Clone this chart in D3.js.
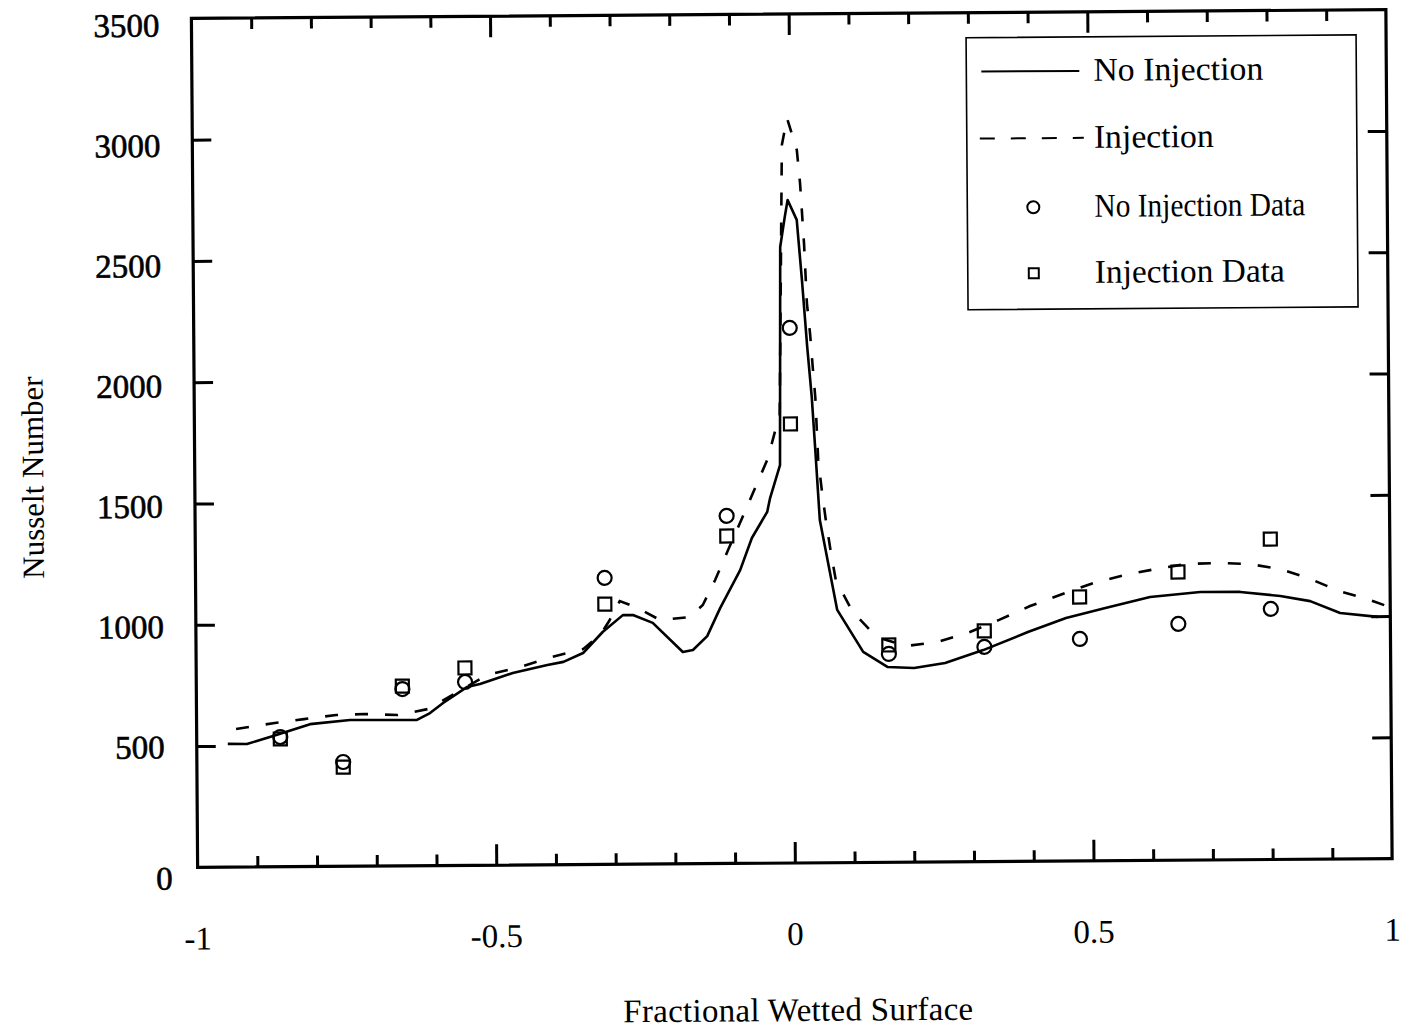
<!DOCTYPE html>
<html>
<head>
<meta charset="utf-8">
<script src="https://cdn.jsdelivr.net/npm/d3@7"></script>
<style>
  html, body { margin: 0; padding: 0; background: #fff; }
  svg { display: block; }
  text { font-family: "Liberation Serif", "Times New Roman", serif; fill: #000; }
</style>
</head>
<body>
<svg id="chart" width="1402" height="1029"></svg>
<script>
// Model curve: no injection (fractional wetted surface, Nusselt number)
const noInjectionCurveX = [-0.948, -0.916, -0.872, -0.810, -0.743, -0.631, -0.609, -0.587, -0.547, -0.525,
  -0.470, -0.412, -0.385, -0.352, -0.319, -0.285, -0.268, -0.235, -0.185, -0.168, -0.144, -0.122,
  -0.088, -0.068, -0.042, -0.037, -0.020, -0.017, -0.009, -0.004, 0.011, 0.019, 0.027, 0.034,
  0.039, 0.046, 0.074, 0.117, 0.158, 0.202, 0.254, 0.318, 0.393, 0.457, 0.523, 0.598, 0.682,
  0.749, 0.816, 0.866, 0.916, 0.979];
const noInjectionCurveY = [508, 507, 539, 587, 603, 601, 629, 670, 735, 747,
  792, 824, 836, 872, 958, 1027, 1027, 994, 873, 881, 938, 1053,
  1209, 1341, 1448, 1505, 1641, 2540, 2664, 2733, 2651, 2403, 2127, 1920,
  1714, 1413, 1042, 868, 805, 800, 820, 872, 945, 1002, 1042, 1086, 1105,
  1104, 1086, 1064, 1014, 997];

// Model curve: injection
const injectionCurveX = [-0.934, -0.869, -0.820, -0.766, -0.718, -0.663, -0.612, -0.557, -0.513, -0.458,
  -0.404, -0.352, -0.323, -0.308, -0.290, -0.263, -0.223, -0.173, -0.151, -0.130, -0.108, -0.084,
  -0.062, -0.040, -0.026, -0.020, -0.013, -0.004, 0.012, 0.017, 0.023, 0.027, 0.032, 0.036,
  0.040, 0.044, 0.050, 0.056, 0.064, 0.072, 0.100, 0.140, 0.189, 0.242, 0.296, 0.345, 0.397,
  0.447, 0.503, 0.555, 0.608, 0.660, 0.712, 0.764, 0.816, 0.863, 0.916, 0.958, 0.990];
const injectionCurveY = [569, 593, 608, 624, 627, 622, 646, 723, 784, 816,
  857, 888, 946, 1003, 1085, 1060, 1006, 1017, 1066, 1169, 1292, 1424,
  1547, 1670, 1798, 1827, 2960, 3071, 2939, 2803, 2551, 2308, 2180, 2044,
  1916, 1661, 1529, 1413, 1281, 1165, 1033, 929, 891, 907, 947, 996, 1052,
  1097, 1145, 1177, 1201, 1221, 1224, 1219, 1197, 1159, 1103, 1074, 1045];

// Measured points (same stations for both runs)
const stationX = [-0.860, -0.755, -0.655, -0.550, -0.315, -0.110, -0.002, 0.160, 0.320, 0.480, 0.645, 0.800];
const noInjectionData = [535, 430, 729, 756, 1181, 1433, 2206, 859, 885, 915, 974, 1033];
const injectionData = [527, 409, 741, 814, 1073, 1350, 1810, 896, 951, 1088, 1188, 1321];

// Axis ticks and labels
const xLabelValues = [-1, -0.5, 0, 0.5, 1];
const xLabelText = ["-1", "-0.5", "0", "0.5", "1"];
const xMinorTicks = [-0.9, -0.8, -0.7, -0.6, -0.4, -0.3, -0.2, -0.1, 0.1, 0.2, 0.3, 0.4, 0.6, 0.7, 0.8, 0.9];
const xMajorTicks = [-0.5, 0, 0.5];
const yLabelValues = [0, 500, 1000, 1500, 2000, 2500, 3000, 3500];
const yTickValues = [500, 1000, 1500, 2000, 2500, 3000];

const legendItems = ["No Injection", "Injection", "No Injection Data", "Injection Data"];

const svg = d3.select("#chart");
// The whole figure sits slightly tilted on the page
const g = svg.append("g").attr("transform", "rotate(-0.42, 792, 438)");

const plotLeft = 194.5, plotRight = 1389, plotTop = 14, plotBottom = 863;
const x = d3.scaleLinear().domain([-1, 1]).range([plotLeft, plotRight]);
const y = d3.scaleLinear().domain([0, 3500]).range([plotBottom, plotTop]);

const ink = "#000";

// Ticks (all pointing inward)
function styleAxis(sel) {
  sel.select(".domain").remove();
  sel.selectAll(".tick line").attr("stroke", ink).attr("stroke-width", 3);
  sel.selectAll(".tick text").remove();
}
g.append("g").attr("transform", `translate(0,${plotBottom})`)
  .call(d3.axisBottom(x).tickValues(xMinorTicks).tickSize(-11)).call(styleAxis);
g.append("g").attr("transform", `translate(0,${plotBottom})`)
  .call(d3.axisBottom(x).tickValues(xMajorTicks).tickSize(-21)).call(styleAxis);
g.append("g").attr("transform", `translate(0,${plotTop})`)
  .call(d3.axisTop(x).tickValues(xMinorTicks).tickSize(-11)).call(styleAxis);
g.append("g").attr("transform", `translate(0,${plotTop})`)
  .call(d3.axisTop(x).tickValues(xMajorTicks).tickSize(-21)).call(styleAxis);
g.append("g").attr("transform", `translate(${plotLeft},0)`)
  .call(d3.axisLeft(y).tickValues(yTickValues).tickSize(-19)).call(styleAxis);
g.append("g").attr("transform", `translate(${plotRight},0)`)
  .call(d3.axisRight(y).tickValues(yTickValues).tickSize(-19)).call(styleAxis);

// Frame
g.append("rect")
  .attr("x", plotLeft).attr("y", plotTop)
  .attr("width", plotRight - plotLeft).attr("height", plotBottom - plotTop)
  .attr("fill", "none").attr("stroke", ink).attr("stroke-width", 3.2);

// Tick labels
g.append("g").selectAll("text").data(xLabelValues).join("text")
  .attr("x", d => x(d))
  .attr("y", plotBottom + 82)
  .attr("text-anchor", "middle")
  .attr("font-size", 33)
  .text((d, i) => xLabelText[i]);

g.append("g").selectAll("text").data(yLabelValues).join("text")
  .attr("x", d => d === 0 ? plotLeft - 25 : plotLeft - 32)
  .attr("y", d => y(d) + (d === 0 ? 22 : 11 + 7 * d / 3500))
  .attr("text-anchor", "end")
  .attr("font-size", 33)
  .attr("stroke", ink).attr("stroke-width", 0.6)
  .text(d => d);

// Axis titles
g.append("text")
  .attr("x", 794).attr("y", 1021)
  .attr("text-anchor", "middle")
  .attr("font-size", 33)
  .attr("textLength", 350)
  .text("Fractional Wetted Surface");
g.append("text")
  .attr("transform", "translate(43,472) rotate(-90)")
  .attr("text-anchor", "middle")
  .attr("font-size", 31)
  .text("Nusselt Number");

// Curves
const line = d3.line().x(d => x(d[0])).y(d => y(d[1]));
const noInjPts = noInjectionCurveX.map((v, i) => [v, noInjectionCurveY[i]]);
const injPts = injectionCurveX.map((v, i) => [v, injectionCurveY[i]]);

g.append("path").datum(injPts)
  .attr("d", line).attr("fill", "none")
  .attr("stroke", ink).attr("stroke-width", 2.6)
  .attr("stroke-dasharray", "13,17");
g.append("path").datum(noInjPts)
  .attr("d", line).attr("fill", "none")
  .attr("stroke", ink).attr("stroke-width", 2.6)
  .attr("stroke-linejoin", "round");

// Measured points
g.append("g").selectAll("circle").data(stationX).join("circle")
  .attr("cx", d => x(d))
  .attr("cy", (d, i) => y(noInjectionData[i]))
  .attr("r", 7)
  .attr("fill", "none").attr("stroke", ink).attr("stroke-width", 2.2);
const sq = 13;
g.append("g").selectAll("rect").data(stationX).join("rect")
  .attr("x", d => x(d) - sq / 2)
  .attr("y", (d, i) => y(injectionData[i]) - sq / 2)
  .attr("width", sq).attr("height", sq)
  .attr("fill", "none").attr("stroke", ink).attr("stroke-width", 2.2);

// Legend
const lg = g.append("g");
lg.append("rect")
  .attr("x", 969).attr("y", 39).attr("width", 390).attr("height", 272)
  .attr("fill", "#fff").attr("stroke", ink).attr("stroke-width", 1.6);
const rowY = [73, 140, 209, 275];
const rowTextWidth = [170, 120, 211, 190];
lg.append("line").attr("x1", 984).attr("x2", 1082).attr("y1", rowY[0]).attr("y2", rowY[0])
  .attr("stroke", ink).attr("stroke-width", 2);
lg.append("line").attr("x1", 982).attr("x2", 1086).attr("y1", rowY[1]).attr("y2", rowY[1])
  .attr("stroke", ink).attr("stroke-width", 2).attr("stroke-dasharray", "15,16");
lg.append("circle").attr("cx", 1035).attr("cy", rowY[2]).attr("r", 6)
  .attr("fill", "none").attr("stroke", ink).attr("stroke-width", 2);
lg.append("rect").attr("x", 1030).attr("y", rowY[3] - 5).attr("width", 10).attr("height", 10)
  .attr("fill", "none").attr("stroke", ink).attr("stroke-width", 2);
lg.selectAll("text.item").data(legendItems).join("text")
  .attr("class", "item")
  .attr("x", 1096)
  .attr("y", (d, i) => rowY[i] + 10)
  .attr("font-size", 33)
  .attr("textLength", (d, i) => rowTextWidth[i])
  .attr("lengthAdjust", "spacingAndGlyphs")
  .text(d => d);
</script>
</body>
</html>
